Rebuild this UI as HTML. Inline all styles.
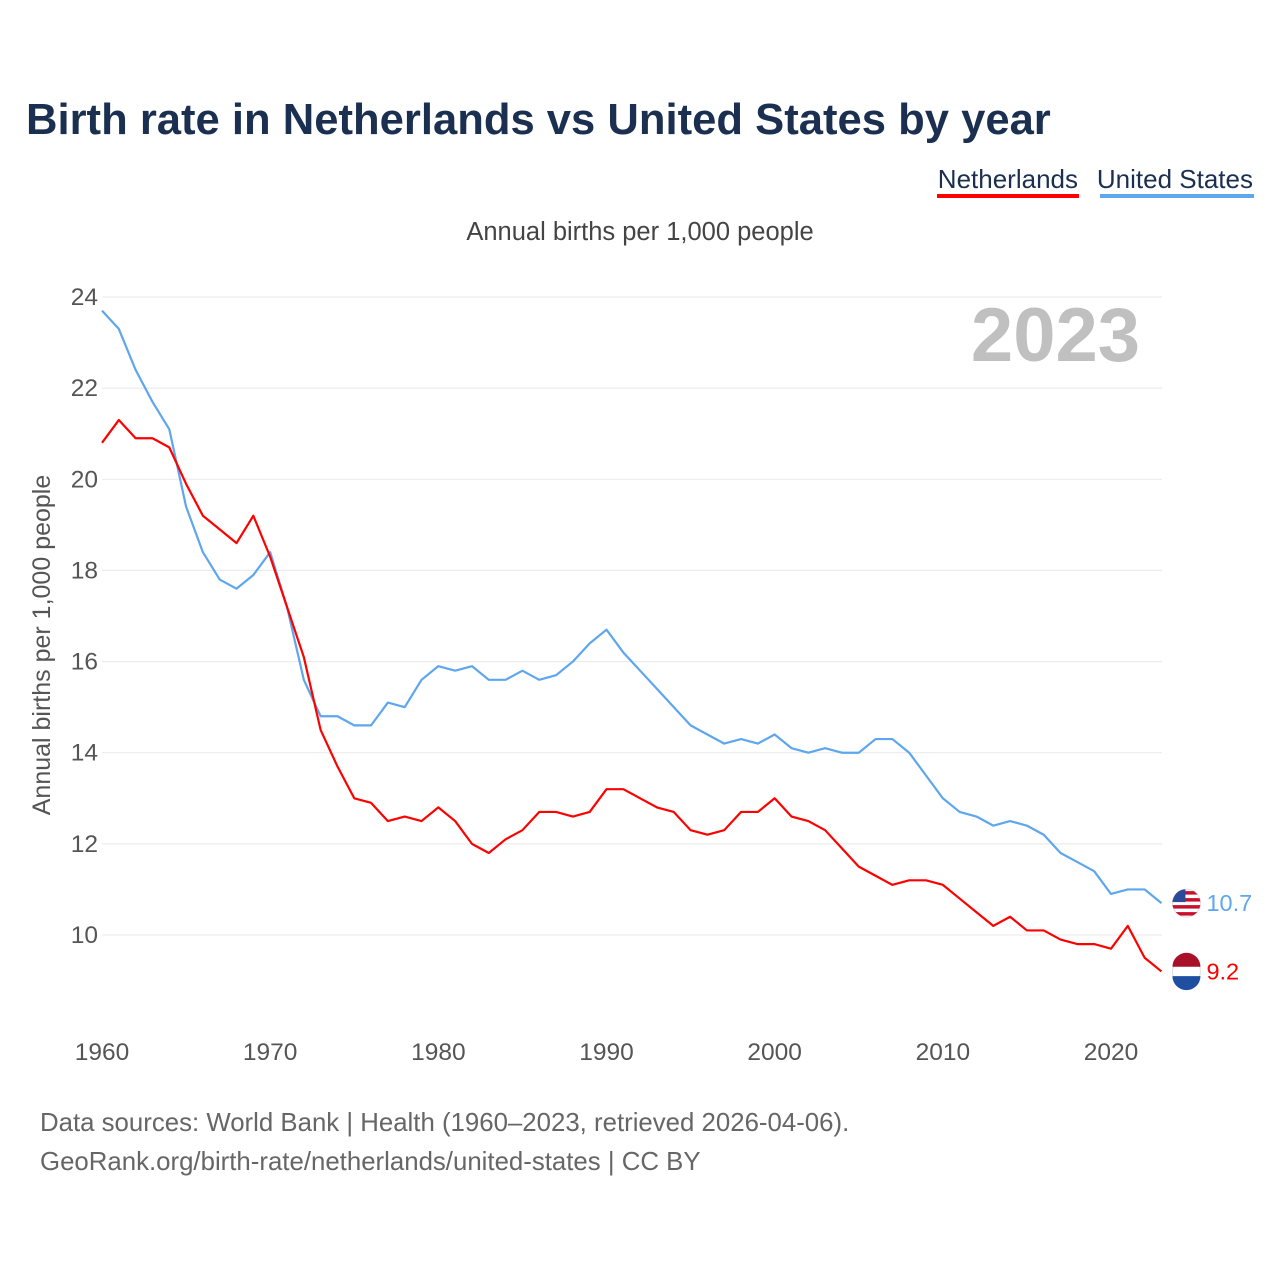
<!DOCTYPE html>
<html><head><meta charset="utf-8">
<style>
body{margin:0;background:#fff;font-family:"Liberation Sans",sans-serif;}
svg{display:block}
</style></head>
<body>
<svg id="chart" width="1280" height="1280">
<defs>
<clipPath id="usclip"><circle id="usc" cx="0" cy="0" r="14"/></clipPath>
</defs>
<text x="26" y="134" font-size="43.6" font-weight="bold" fill="#1b3050">Birth rate in Netherlands vs United States by year</text>
<g>
<text x="1078" y="188" font-size="26" fill="#1b3050" text-anchor="end">Netherlands</text>
<rect x="937" y="194" width="142" height="4" fill="#ff0000"/>
</g>
<g>
<text x="1253" y="188" font-size="26" fill="#1b3050" text-anchor="end">United States</text>
<rect x="1100" y="194" width="154" height="4" fill="#5ea6ee"/>
</g>
<text x="640" y="240" font-size="25.5" fill="#444" text-anchor="middle">Annual births per 1,000 people</text>
<text x="1140" y="361" font-size="76" font-weight="bold" fill="#c0c0c0" text-anchor="end">2023</text>
<text transform="translate(50,645) rotate(-90)" font-size="25" fill="#555" text-anchor="middle">Annual births per 1,000 people</text>
<g id="grid"></g><g id="ticks"></g><g id="lines"></g>
<text x="40" y="1131" font-size="25.8" fill="#666">Data sources: World Bank | Health (1960–2023, retrieved 2026-04-06).</text>
<text x="40" y="1170" font-size="25.8" fill="#666">GeoRank.org/birth-rate/netherlands/united-states | CC BY</text>
</svg>
<script>
const years=[];for(let y=1960;y<=2023;y++)years.push(y);
const usValues=[23.7,23.3,22.4,21.7,21.1,19.4,18.4,17.8,17.6,17.9,18.4,17.2,15.6,14.8,14.8,14.6,14.6,15.1,15.0,15.6,15.9,15.8,15.9,15.6,15.6,15.8,15.6,15.7,16.0,16.4,16.7,16.2,15.8,15.4,15.0,14.6,14.4,14.2,14.3,14.2,14.4,14.1,14.0,14.1,14.0,14.0,14.3,14.3,14.0,13.5,13.0,12.7,12.6,12.4,12.5,12.4,12.2,11.8,11.6,11.4,10.9,11.0,11.0,10.7];
const nlValues=[20.8,21.3,20.9,20.9,20.7,19.9,19.2,18.9,18.6,19.2,18.3,17.2,16.1,14.5,13.7,13.0,12.9,12.5,12.6,12.5,12.8,12.5,12.0,11.8,12.1,12.3,12.7,12.7,12.6,12.7,13.2,13.2,13.0,12.8,12.7,12.3,12.2,12.3,12.7,12.7,13.0,12.6,12.5,12.3,11.9,11.5,11.3,11.1,11.2,11.2,11.1,10.8,10.5,10.2,10.4,10.1,10.1,9.9,9.8,9.8,9.7,10.2,9.5,9.2];
const yTicks=[10,12,14,16,18,20,22,24];
const xTicks=[1960,1970,1980,1990,2000,2010,2020];
const NS="http://www.w3.org/2000/svg";
const X=y=>102+(y-1960)*(1009/60);
const Y=v=>935-(v-10)*(638/14);
function mk(t,a,p){const e=document.createElementNS(NS,t);for(const k in a)e.setAttribute(k,a[k]);p.appendChild(e);return e;}
const grid=document.getElementById('grid'),ticks=document.getElementById('ticks'),lines=document.getElementById('lines');
yTicks.forEach(v=>{
 const l=mk('line',{x1:102,x2:1162,y1:Y(v),y2:Y(v),stroke:'#e8e8e8','stroke-width':1},grid);
 
 
 const t=mk('text',{x:98,y:Y(v)+8,'font-size':24.5,fill:'#555','text-anchor':'end'},ticks);t.textContent=v;
 
 
});
xTicks.forEach(v=>{
 const t=mk('text',{x:X(v),y:1060,'font-size':24.5,fill:'#555','text-anchor':'middle'},ticks);t.textContent=v;
 
 
});
function series(vals,color,name){
 const p=mk('polyline',{points:vals.map((v,i)=>X(years[i])+','+Y(v)).join(' '),fill:'none',stroke:color,'stroke-width':2.2,'stroke-linejoin':'round'},lines);
 
 
 const last=vals[vals.length-1];const lx=X(years[years.length-1]);
 const c=mk('circle',{cx:lx+25,cy:Y(last),r:14,fill:'#fff',stroke:'#ddd'},lines);
 
 
 const t=mk('text',{x:lx+45,y:Y(last)+8,'font-size':23.5,fill:color},lines);t.textContent=last;
 
 
 return Y(last);
}
const yu=series(usValues,'#5ea6ee','united-states');
const yn=series(nlValues,'#ff0000','netherlands');
const cx=X(2023)+25;
mk('path',{d:`M${cx-14},${yn-4.7} A14,14 0 0 1 ${cx+14},${yn-4.7} Z`,fill:'#a8102a'},lines);
mk('path',{d:`M${cx-14},${yn+4.7} A14,14 0 0 0 ${cx+14},${yn+4.7} Z`,fill:'#1e4fa0'},lines);
const uc=document.getElementById('usc');uc.setAttribute('cx',cx);uc.setAttribute('cy',yu);
const ug=mk('g',{'clip-path':'url(#usclip)'},lines);
for(let i=0;i<4;i++)mk('rect',{x:cx-14,y:yu-12+i*7,width:28,height:3.5,fill:'#c8102e'},ug);
mk('rect',{x:cx-14,y:yu-14,width:13,height:13,fill:'#2a4a9a'},ug);
</script>
</body></html>
